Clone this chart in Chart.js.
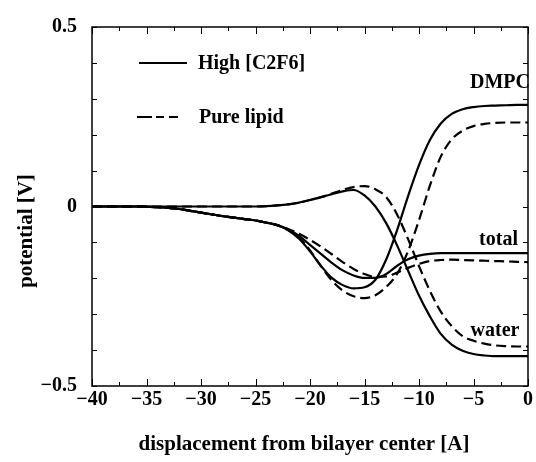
<!DOCTYPE html>
<html>
<head>
<meta charset="utf-8">
<title>Electrostatic potential across the bilayer</title>
<script src="https://cdn.jsdelivr.net/npm/chart.js@4/dist/chart.umd.min.js"></script>
<style>
  html, body { margin: 0; padding: 0; background: #fff; }
  #wrap { width: 536px; height: 462px; }
</style>
</head>
<body>
<div id="wrap"><canvas id="c" width="536" height="462"></canvas></div>
<script>
// displacement from the bilayer centre, in Angstrom
const displacement = [-40,-39,-38,-37,-36,-35,-34,-33,-32,-31,-30,-29,-28,-27,-26,-25,-24,-23,-22,-21,-20,
                      -19,-18,-17,-16,-15,-14,-13,-12,-11,-10,-9,-8,-7,-6,-5,-4,-3,-2,-1,0];

// potential contributions [V]: high C2F6 concentration (solid) and pure lipid (dashed)
const dmpcHigh  = [0,0,0,0,0,-0.001,-0.002,-0.004,-0.007,-0.012,-0.017,-0.022,-0.027,-0.031,-0.035,-0.039,-0.045,-0.052,-0.066,
                   -0.09,-0.125,-0.165,-0.199,-0.219,-0.228,-0.225,-0.204,-0.147,-0.065,0.029,0.115,0.185,0.231,0.258,0.271,0.277,0.28,0.281,0.282,0.283,0.283];
const dmpcPure  = [0,0,0,0,0,-0.001,-0.002,-0.004,-0.007,-0.012,-0.017,-0.022,-0.027,-0.031,-0.035,-0.039,-0.045,-0.052,-0.065,
                   -0.087,-0.122,-0.166,-0.206,-0.234,-0.25,-0.255,-0.247,-0.224,-0.187,-0.124,-0.038,0.058,0.139,0.187,0.211,0.224,0.23,0.233,0.234,0.234,0.234];
const totalHigh = [0,0,0,0,0,-0.001,-0.002,-0.004,-0.007,-0.012,-0.017,-0.022,-0.027,-0.031,-0.035,-0.039,-0.045,-0.052,-0.064,
                   -0.082,-0.107,-0.132,-0.157,-0.178,-0.192,-0.199,-0.199,-0.188,-0.165,-0.147,-0.137,-0.132,-0.13,-0.13,-0.13,-0.13,-0.13,-0.13,-0.13,-0.13,-0.13];
const totalPure = [0,0,0,0,0,-0.001,-0.002,-0.004,-0.007,-0.012,-0.017,-0.022,-0.027,-0.031,-0.035,-0.039,-0.045,-0.052,-0.063,
                   -0.076,-0.093,-0.112,-0.133,-0.155,-0.174,-0.188,-0.196,-0.195,-0.184,-0.171,-0.16,-0.152,-0.149,-0.148,-0.149,-0.15,-0.151,-0.152,-0.153,-0.154,-0.155];
const waterHigh = [0,0,0,0,0,0,0,0,0,0,0,0,0,0,0,0,0.001,0.003,0.006,0.011,0.018,
                   0.026,0.034,0.042,0.046,0.031,0,-0.047,-0.109,-0.179,-0.248,-0.306,-0.355,-0.385,-0.402,-0.411,-0.415,-0.417,-0.417,-0.417,-0.417];
const waterPure = [0,0,0,0,0,0,0,0,0,0,0,0,0,0,0,0,0.001,0.003,0.006,0.011,0.018,
                   0.026,0.036,0.046,0.054,0.057,0.048,0.026,-0.023,-0.091,-0.166,-0.235,-0.293,-0.333,-0.361,-0.374,-0.382,-0.387,-0.389,-0.39,-0.39];

const xTicks = [-40,-35,-30,-25,-20,-15,-10,-5,0];
const yTicks = [-0.5,0,0.5];
const legendLabels = ['High [C2F6]', 'Pure lipid'];
const curveLabels = ['DMPC', 'total', 'water'];

const SERIF = '"Liberation Serif", "DejaVu Serif", serif';
const DASH = [10, 5];

function pts(ys) { return displacement.map((x, i) => ({ x: x, y: ys[i] })); }
function minusSign(v) {
  if (v === 0) return '0';
  return v < 0 ? '\u2212' + String(Math.abs(v)) : String(v);
}
function series(ys, dashed, label) {
  return {
    label: label,
    data: pts(ys),
    borderColor: '#000',
    borderWidth: 2.2,
    borderDash: dashed ? DASH : [],
    pointRadius: 0,
    fill: false,
    cubicInterpolationMode: 'monotone'
  };
}

// frame, inward ticks, legend, curve names and axis titles
const decor = {
  id: 'decor',
  afterDraw(chart) {
    const ctx = chart.ctx;
    const a = chart.chartArea;
    const xs = chart.scales.x, ys = chart.scales.y;
    ctx.save();
    ctx.strokeStyle = '#000';
    ctx.fillStyle = '#000';

    // ticks on all four sides, pointing inward
    ctx.lineWidth = 1;
    ctx.beginPath();
    for (let v = -40; v <= 0.001; v += 2.5) {
      const px = Math.round(xs.getPixelForValue(v)) + 0.5;
      const len = (Math.abs(v % 5) < 1e-6) ? 7 : 4;
      ctx.moveTo(px, a.bottom); ctx.lineTo(px, a.bottom - len);
      ctx.moveTo(px, a.top); ctx.lineTo(px, a.top + len);
    }
    for (let k = -5; k <= 5; k++) {
      const py = Math.round(ys.getPixelForValue(k / 10)) + 0.5;
      ctx.moveTo(a.left, py); ctx.lineTo(a.left + 5, py);
      ctx.moveTo(a.right, py); ctx.lineTo(a.right - 5, py);
    }
    ctx.stroke();

    // frame
    ctx.lineWidth = 1.5;
    ctx.strokeRect(a.left, a.top, a.right - a.left, a.bottom - a.top);

    // legend
    ctx.font = 'bold 20px ' + SERIF;
    ctx.textBaseline = 'middle';
    ctx.textAlign = 'left';
    const legendRows = [
      { y: 63, x0: 139, x1: 187, dash: [], tx: 198 },
      { y: 117, x0: 137, x1: 178, dash: [15, 4, 8, 5, 10, 40], tx: 199 }
    ];
    legendRows.forEach((r, i) => {
      ctx.lineWidth = 2.2;
      ctx.setLineDash(r.dash);
      ctx.beginPath();
      ctx.moveTo(r.x0, r.y); ctx.lineTo(r.x1, r.y);
      ctx.stroke();
      ctx.setLineDash([]);
      ctx.fillText(legendLabels[i], r.tx, r.y + 1);
    });

    // curve names
    ctx.textAlign = 'center';
    ctx.fillText(curveLabels[0], 500, 83);
    ctx.fillText(curveLabels[1], 498.5, 240);
    ctx.fillText(curveLabels[2], 495, 331);

    // axis titles
    ctx.font = 'bold 21px ' + SERIF;
    ctx.fillText('displacement from bilayer center [A]', 304, 445);
    ctx.translate(27, 231);
    ctx.rotate(-Math.PI / 2);
    ctx.fillText('potential [V]', 0, 0);
    ctx.restore();
  }
};

new Chart(document.getElementById('c'), {
  type: 'line',
  data: {
    datasets: [
      series(dmpcHigh, false, 'DMPC, High [C2F6]'),
      series(dmpcPure, true, 'DMPC, Pure lipid'),
      series(totalHigh, false, 'total, High [C2F6]'),
      series(totalPure, true, 'total, Pure lipid'),
      series(waterHigh, false, 'water, High [C2F6]'),
      series(waterPure, true, 'water, Pure lipid')
    ]
  },
  options: {
    responsive: false,
    animation: false,
    devicePixelRatio: 1,
    layout: { padding: { left: 0, right: 8, top: 21, bottom: 0 } },
    plugins: { legend: { display: false }, tooltip: { enabled: false } },
    scales: {
      x: {
        type: 'linear', min: -40, max: 0,
        grid: { display: false, drawTicks: false },
        border: { display: false },
        afterBuildTicks(s) { s.ticks = xTicks.map(v => ({ value: v })); },
        ticks: {
          padding: 2, color: '#000',
          font: { family: SERIF, weight: 'bold', size: 20 },
          callback: v => minusSign(v),
          maxRotation: 0, autoSkip: false
        },
        afterFit(s) { s.height = 76; }
      },
      y: {
        type: 'linear', min: -0.5, max: 0.5,
        grid: { display: false, drawTicks: false },
        border: { display: false },
        afterBuildTicks(s) { s.ticks = yTicks.map(v => ({ value: v })); },
        ticks: {
          padding: 15, color: '#000',
          font: { family: SERIF, weight: 'bold', size: 20 },
          callback: v => minusSign(v),
          autoSkip: false
        },
        afterFit(s) { s.width = 92; }
      }
    }
  },
  plugins: [decor]
});
</script>
</body>
</html>
